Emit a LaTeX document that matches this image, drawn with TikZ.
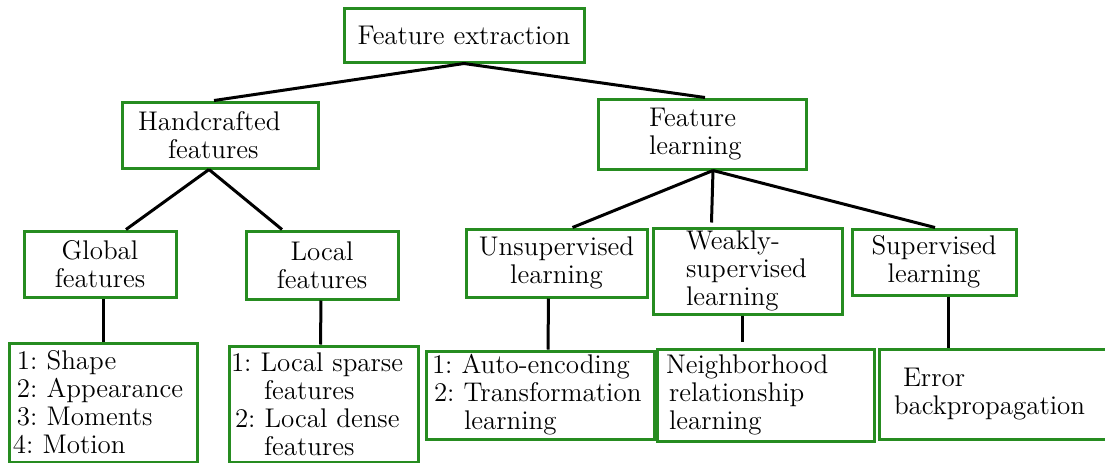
\documentclass[tikz,border=0pt]{standalone}
\definecolor{boxgreen}{RGB}{38,140,32}

\begin{document}
\begin{tikzpicture}[x=0.5pt,y=-0.5pt]
    \useasboundingbox (0,0) rectangle (1105,462);

    \begin{scope}[every node/.style={draw=boxgreen,line width=1.5pt,inner sep=0pt,
                font=\fontsize{13.5}{14}\selectfont\frenchspacing,align=center}]
        \node[minimum width=120pt,minimum height=27pt] (fe) at (464,35) {Feature extraction};
        \node[text width=82pt,inner xsep=8pt,minimum height=33pt,align=left] (hand) at (220,135) {Handcrafted\\\hspace*{15pt}features};
        \node[text width=53pt,inner xsep=25.5pt,minimum height=35pt,align=left] (learn) at (702,134) {Feature\\learning};

        \node[minimum width=76pt,minimum height=33pt] (glob) at (100,264) {Global\\features};
        \node[minimum width=76pt,minimum height=34pt] (loc) at (322,265) {Local\\features};
        \node[minimum width=90.5pt,minimum height=34pt] (unsup) at (556.5,263) {Unsupervised\\learning};
        \node[text width=61.5pt,inner xsep=16.5pt,minimum height=43pt,align=left] (weak) at (747.5,271) {Weakly-\\supervised\\learning};
        \node[minimum width=82pt,minimum height=33pt] (sup) at (934,262) {Supervised\\learning};

        \node[text width=86pt,inner xsep=4pt,minimum height=59.5pt,align=left] (glist) at (103,402.5) {1: Shape\\2: Appearance\\3: Moments\\\hspace*{-2pt}4: Motion};
        \node[text width=92.5pt,inner xsep=1pt,minimum height=58pt,align=left] (llist) at (323.5,404) {1: Local sparse\\\hspace*{16.5pt}features\\\hspace*{2pt}2: Local dense\\\hspace*{16.5pt}features};
        \node[text width=108pt,inner xsep=3pt,minimum height=44pt,align=left] (auto) at (540,395) {1: Auto-encoding\\\hspace*{1pt}2: Transformation\\\hspace*{16pt}learning};
        \node[text width=99.5pt,inner xsep=4.5pt,minimum height=46pt,align=left] (nbr) at (765.5,395) {Neighborhood\\\hspace*{1.5pt}relationship\\\hspace*{1.5pt}learning};
        \node[text width=103pt,inner xsep=7.5pt,minimum height=45pt,align=left] (err) at (997,394) {\hspace*{4.5pt}Error\\backpropagation};
    \end{scope}

    \begin{scope}[every edge/.style={draw=black,line width=1.5pt}]
        \path [-] (fe.south) edge ([xshift=-3pt]hand.north);
        \path [-] (fe.south) edge ([xshift=1.5pt]learn.north);
        \path [-] ([xshift=-5.5pt]hand.south) edge ([xshift=13pt]glob.north);
        \path [-] ([xshift=-5.5pt]hand.south) edge ([xshift=-20pt]loc.north);
        \path [-] ([xshift=5.5pt]learn.south) edge ([xshift=8pt]unsup.north);
        \path [-] ([xshift=5.5pt]learn.south) edge ([xshift=-18pt,yshift=2pt]weak.north);
        \path [-] ([xshift=5.5pt]learn.south) edge ([xshift=0.5pt]sup.north);
        \path [-] ([xshift=1.5pt]glob.south) edge (glist.north);
        \path [-] ([xshift=-0.5pt]loc.south) edge ([xshift=-1.5pt]llist.north);
        \path [-] ([xshift=-4pt]unsup.south) edge ([xshift=4pt]auto.north);
        \path [-] ([xshift=-2.75pt]weak.south) edge ([xshift=-11.75pt,yshift=3pt]nbr.north);
        \path [-] ([xshift=7pt]sup.south) edge ([xshift=-24.5pt]err.north);
    \end{scope}
\end{tikzpicture}
\end{document}
